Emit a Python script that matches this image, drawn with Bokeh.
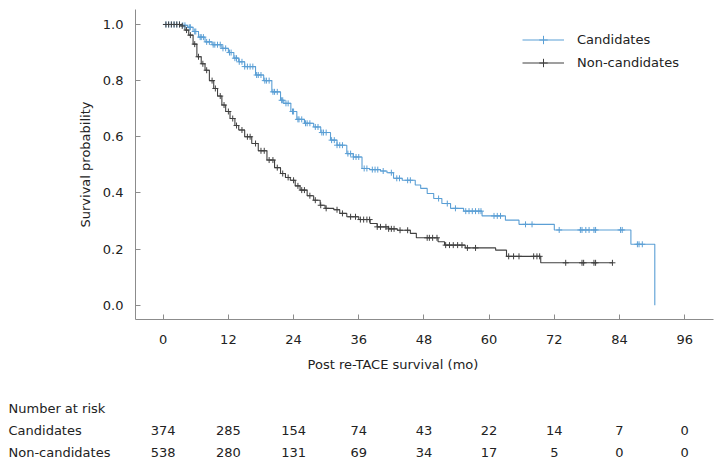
import numpy as np
from bokeh.plotting import figure
from bokeh.models import (Range1d, Legend, LegendItem, ColumnDataSource, FixedTicker,
                          CustomJSTickFormatter)
from bokeh.core.properties import value
from bokeh.embed import file_html
from bokeh.resources import INLINE

# ---------------- data ----------------
# Kaplan-Meier step points (time in months, survival probability)
cand_t = [0, 3.4, 4.5, 5.5, 6.5, 7.7, 9.0, 10.8, 12.0, 13.0, 13.9, 15.0, 17.0, 18.5, 20.0,
          21.6, 22.2, 23.5, 24.6, 26.0, 27.7, 29.0, 30.8, 32.0, 33.8, 35.0, 36.6, 38.0,
          40.0, 41.2, 42.4, 44.0, 46.4, 47.4, 48.6, 49.8, 51.3, 52.9, 55.3, 58.7, 63.0,
          65.5, 72.0, 86.1, 90.5]
cand_s = [1.0, 0.997, 0.99, 0.975, 0.955, 0.938, 0.928, 0.915, 0.90, 0.88, 0.867, 0.85, 0.82,
          0.80, 0.76, 0.73, 0.719, 0.69, 0.662, 0.648, 0.635, 0.615, 0.588, 0.57, 0.54, 0.528,
          0.487, 0.483, 0.478, 0.472, 0.452, 0.445, 0.428, 0.416, 0.398, 0.38, 0.362, 0.345,
          0.335, 0.318, 0.303, 0.288, 0.268, 0.217, 0.0]

non_t = [0, 3.2, 4.0, 4.7, 5.5, 6.2, 7.0, 7.7, 8.5, 9.3, 10.0, 10.8, 11.5, 12.3, 13.2, 13.9,
         15.0, 16.3, 17.5, 19.1, 20.5, 21.6, 22.5, 23.4, 24.3, 25.2, 26.5, 27.7, 28.9, 29.8,
         31.4, 32.5, 33.8, 36.0, 38.1, 39.4, 41.5, 43.1, 45.5, 46.6, 50.6, 51.8, 55.6, 61.2,
         63.2, 69.5, 82.7]
non_s = [1.0, 0.995, 0.98, 0.962, 0.93, 0.885, 0.86, 0.837, 0.80, 0.772, 0.745, 0.713, 0.69,
         0.665, 0.64, 0.624, 0.60, 0.576, 0.55, 0.517, 0.49, 0.469, 0.455, 0.445, 0.425, 0.41,
         0.39, 0.374, 0.356, 0.345, 0.34, 0.327, 0.315, 0.305, 0.291, 0.279, 0.272, 0.267,
         0.256, 0.24, 0.226, 0.214, 0.204, 0.196, 0.174, 0.151, 0.151]

# censoring times
cand_cens = [0.5, 1.0, 1.5, 2.0, 2.5, 3.0, 3.6, 4.0, 4.8, 5.0, 5.8, 6.0, 6.8, 7.0, 7.4, 8.0,
             8.5, 9.2, 9.5, 10.0, 10.5, 11.0, 11.5, 12.2, 12.5, 13.2, 13.5, 14.0, 14.5, 15.0,
             15.5, 16.0, 16.5, 17.2, 17.5, 18.0, 18.7, 19.0, 19.5, 20.2, 20.5, 21.0, 21.8,
             22.0, 22.6, 23.0, 23.8, 24.0, 24.8, 25.0, 25.5, 26.2, 26.5, 27.0, 28.0, 28.5,
             29.2, 29.5, 30.0, 31.0, 31.5, 32.0, 32.5, 33.0, 34.0, 34.5, 35.0, 35.5, 36.0,
             37.0, 37.5, 38.5, 39.0, 39.5, 40.5, 42.0, 43.0, 43.5, 45.0, 45.5, 50.7, 52.3,
             53.8, 55.7, 56.3, 56.9, 57.5, 58.1, 58.5, 60.9, 61.5, 62.1, 66.7, 67.9, 72.9, 76.8,
             77.1, 77.8, 78.4, 79.3, 79.6, 84.2, 84.5, 87.3, 87.6, 88.2]
non_cens = [0.5, 1.0, 1.5, 2.0, 2.5, 3.0, 3.5, 4.3, 5.0, 5.8, 6.5, 7.3, 8.0, 9.0, 9.6, 10.5,
            11.2, 12.0, 12.8, 13.5, 14.5, 15.5, 16.0, 17.0, 18.0, 18.6, 19.5, 20.2, 21.0,
            22.0, 23.0, 24.0, 24.8, 25.5, 26.0, 27.0, 28.0, 29.0, 30.0, 32.0,
            33.0, 34.5, 35.4, 36.3, 36.9, 37.5, 38.0, 39.4, 40.0, 41.0, 41.5, 42.0, 42.5, 43.6,
            45.0, 48.6, 49.0, 49.6, 50.4, 52.0, 52.7, 53.4, 54.2, 55.0, 56.0, 57.5, 63.6, 64.5,
            65.5, 68.2, 68.8, 69.3, 74.1, 77.1, 77.4, 79.3, 79.6, 82.7]

# number at risk table
risk_times = [0, 12, 24, 36, 48, 60, 72, 84, 96]
risk_cand = [374, 285, 154, 74, 43, 22, 14, 7, 0]
risk_non = [538, 280, 131, 69, 34, 17, 5, 0, 0]
group_names = ["Candidates", "Non-candidates"]
risk_title = "Number at risk"
x_label = "Post re-TACE survival (mo)"
y_label = "Survival probability"
x_ticks = [0, 12, 24, 36, 48, 60, 72, 84, 96]
y_ticks = [0.0, 0.2, 0.4, 0.6, 0.8, 1.0]

# ---------------- styling / layout ----------------
FONT = "DejaVu Sans"
FS = "13px"
BLUE = "#5b9fd5"
DARK = "#404040"
AXIS = "#8c8c8c"
TXT = "#222222"

W, H = 724, 471
# axis extents (data units) of the drawn L-shaped axes
AX_X0, AX_X1 = -5.1, 101.3
AX_Y0, AX_Y1 = -0.051, 1.053
# whole canvas is the plotting frame; axes are placed at fixed locations inside it
PX_X = 5.432            # pixels per month
PX_Y = 280.7            # pixels per unit of survival
AXIS_LEFT_PX, AXIS_BOTTOM_PX = 135, 319
XR0 = AX_X0 - AXIS_LEFT_PX / PX_X
XR1 = XR0 + W / PX_X
YR0 = AX_Y0 - (H - AXIS_BOTTOM_PX) / PX_Y
YR1 = YR0 + H / PX_Y


def ydata(py):           # canvas pixel row -> data y
    return YR1 - py / PX_Y


def step_at(t_arr, s_arr, times):
    t_arr = np.asarray(t_arr)
    s_arr = np.asarray(s_arr)
    idx = np.searchsorted(t_arr, np.asarray(times), side="right") - 1
    return s_arr[np.clip(idx, 0, len(s_arr) - 1)]


p = figure(width=W, height=H, output_backend="svg", toolbar_location=None,
           x_range=Range1d(XR0, XR1), y_range=Range1d(YR0, YR1),
           min_border_left=0, min_border_right=0, min_border_top=0, min_border_bottom=0)
p.outline_line_color = None
p.grid.grid_line_color = None

cand_line = p.step(cand_t, cand_s, mode="after", line_color=BLUE, line_width=1.1)
non_line = p.step(non_t, non_s, mode="after", line_color=DARK, line_width=1.1)

cand_src = ColumnDataSource(dict(x=cand_cens, y=step_at(cand_t, cand_s, cand_cens)))
non_src = ColumnDataSource(dict(x=non_cens, y=step_at(non_t, non_s, non_cens)))
cand_mk = p.scatter("x", "y", source=cand_src, marker="cross", size=6,
                    line_color=BLUE, line_width=1)
non_mk = p.scatter("x", "y", source=non_src, marker="cross", size=6,
                   line_color=DARK, line_width=1)

for ax in (p.xaxis[0], p.yaxis[0]):
    ax.axis_line_color = AXIS
    ax.major_tick_line_color = AXIS
    ax.major_tick_in = 5
    ax.major_tick_out = 0
    ax.minor_tick_line_color = None
    ax.major_label_text_font = FONT
    ax.major_label_text_font_size = FS
    ax.major_label_text_color = TXT
    ax.axis_label_text_font = FONT
    ax.axis_label_text_font_size = FS
    ax.axis_label_text_font_style = "normal"
    ax.axis_label_text_color = TXT

p.xaxis.fixed_location = AX_Y0
p.xaxis.bounds = (AX_X0, AX_X1)
p.yaxis.fixed_location = AX_X0
p.yaxis.bounds = (AX_Y0, AX_Y1)
p.xaxis.ticker = FixedTicker(ticks=x_ticks)
p.yaxis.ticker = FixedTicker(ticks=y_ticks)
p.yaxis.formatter = CustomJSTickFormatter(code="return tick.toFixed(1);")
p.yaxis.axis_label = y_label
p.xaxis.major_label_standoff = 15
p.yaxis.major_label_standoff = 12
p.yaxis.axis_label_standoff = 7

# x axis title (placed where the reference shows it)
p.text(x=[42.3], y=[ydata(364)], text=[x_label], text_align="center",
       text_baseline="middle", text_font=value(FONT), text_font_size=FS, text_color=TXT)

legend = Legend(items=[LegendItem(label=group_names[0], renderers=[cand_line, cand_mk]),
                       LegendItem(label=group_names[1], renderers=[non_line, non_mk])],
                location=(522, H - 73), orientation="vertical")
legend.background_fill_alpha = 0
legend.border_line_color = None
legend.padding = 0
legend.margin = 0
legend.spacing = 2
legend.glyph_width = 42
legend.glyph_height = 21
legend.label_height = 21
legend.label_standoff = 13
legend.label_text_font = FONT
legend.label_text_font_size = FS
legend.label_text_color = TXT
p.add_layout(legend)

# ---------------- number at risk table ----------------
row_py = [408, 430, 452]
left_x = XR0 + 8 / PX_X
p.text(x=[left_x] * 3, y=[ydata(v) for v in row_py], text=[risk_title] + group_names,
       text_align="left", text_baseline="middle", text_font=value(FONT),
       text_font_size=FS, text_color=TXT)
p.text(x=risk_times + risk_times,
       y=[ydata(row_py[1])] * len(risk_times) + [ydata(row_py[2])] * len(risk_times),
       text=[str(v) for v in risk_cand + risk_non], text_align="center",
       text_baseline="middle", text_font=value(FONT), text_font_size=FS, text_color=TXT)

open("out.html", "w").write(file_html(p, INLINE))
